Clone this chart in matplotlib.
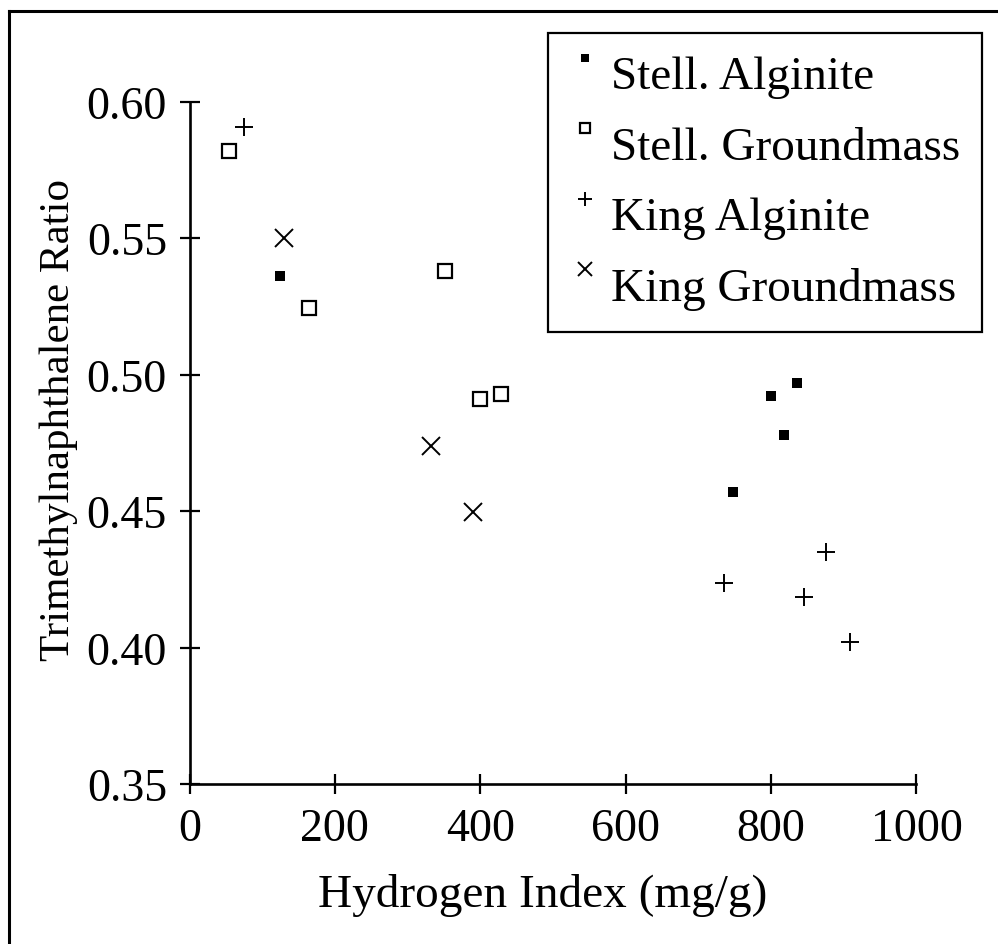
import numpy as np
import matplotlib
matplotlib.use('Agg')
import matplotlib.pyplot as plt
from matplotlib.lines import Line2D

plt.rcParams['font.family'] = ['Liberation Serif', 'DejaVu Serif']

# values
stell_alg_hi = [124, 836, 800, 818, 748]
stell_alg_tmr = [0.536, 0.497, 0.492, 0.478, 0.457]

stell_gm_hi = [54, 165, 352, 400, 429]
stell_gm_tmr = [0.582, 0.5245, 0.538, 0.491, 0.493]

king_alg_hi = [75, 875, 735, 845, 908]
king_alg_tmr = [0.5905, 0.435, 0.4235, 0.4185, 0.402]

king_gm_hi = [130, 332, 390]
king_gm_tmr = [0.550, 0.474, 0.4497]

labels = ['Stell. Alginite', 'Stell. Groundmass', 'King Alginite', 'King Groundmass']

fig = plt.figure(figsize=(9.98, 9.45), dpi=100)
ax = fig.add_axes([0.1899, 0.1693, 0.7284, 0.7222])

ax.plot(stell_alg_hi, stell_alg_tmr, 's', color='k', ms=7.4, mew=0, ls='none', label=labels[0])
ax.plot(stell_gm_hi, stell_gm_tmr, 's', mfc='white', mec='k', ms=10, mew=1.6, ls='none', label=labels[1])
ax.plot(king_alg_hi, king_alg_tmr, '+', color='k', ms=13.5, mew=1.4, ls='none', label=labels[2])
ax.plot(king_gm_hi, king_gm_tmr, 'x', color='k', ms=13.5, mew=1.4, ls='none', label=labels[3])

ax.set_xlim(0, 1000)
ax.set_ylim(0.35, 0.60)
ax.set_xticks([0, 200, 400, 600, 800, 1000])
ax.set_yticks([0.35, 0.40, 0.45, 0.50, 0.55, 0.60])
ax.set_yticklabels(['0.35', '0.40', '0.45', '0.50', '0.55', '0.60'])

for s in ['top', 'right']:
    ax.spines[s].set_visible(False)
for s in ['left', 'bottom']:
    ax.spines[s].set_linewidth(1.9)
ax.tick_params(direction='inout', length=14.5, width=1.6, labelsize=33)
ax.tick_params(axis='x', pad=10)
ax.tick_params(axis='y', pad=9)
ax.set_xlabel('Hydrogen Index (mg/g)', fontsize=34)
ax.set_ylabel('Trimethylnaphthalene Ratio', fontsize=31)
ax.xaxis.set_label_coords(0.486, -0.13)
ax.yaxis.set_label_coords(-0.153, 0.535)

leg = ax.legend(loc='upper right', bbox_to_anchor=(982/998, 1 - 34/945),
                bbox_transform=fig.transFigure, borderaxespad=0,
                fontsize=34, markerscale=0.7, handlelength=0.6,
                handletextpad=0.25, labelspacing=0.58, borderpad=0.47,
                fancybox=False, framealpha=1, edgecolor='k')
leg.get_frame().set_linewidth(1.6)
# markers sit raised beside the text, as in the source figure
for h in leg.legend_handles:
    h.set_ydata([y + 10 for y in h.get_ydata()])

# outer frame (cropped box: only left and top edges visible)
fig.add_artist(Line2D([9/998, 9/998], [-0.05, 1 - 12/945], color='k', lw=2.2))
fig.add_artist(Line2D([9/998, 1.05], [1 - 12/945, 1 - 12/945], color='k', lw=2.2))

plt.savefig('out.png', dpi=100)
